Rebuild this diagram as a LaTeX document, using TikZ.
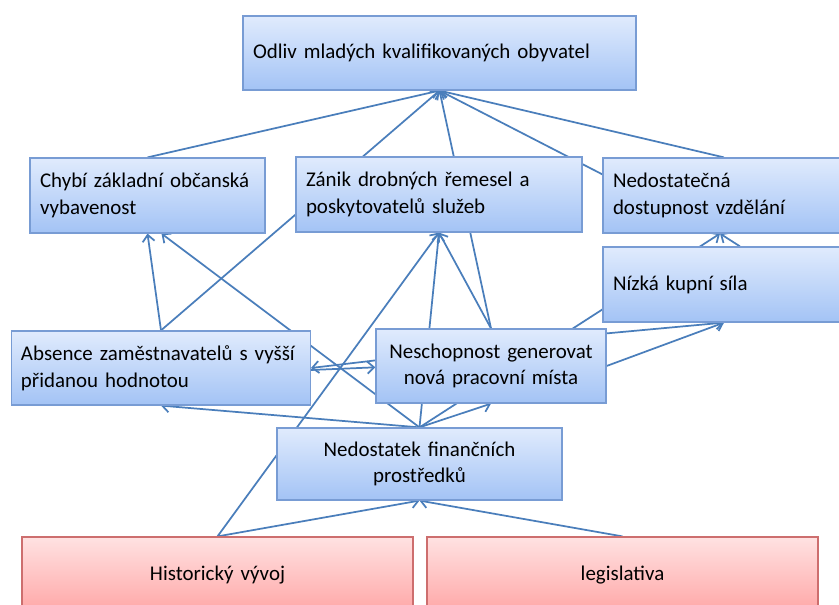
\documentclass[tikz,border=0pt]{standalone}
\usepackage{fontspec}
\setmainfont{Carlito}
\usetikzlibrary{arrows.meta,backgrounds,calc}
\definecolor{btop}{RGB}{224,235,253}
\definecolor{bbot}{RGB}{163,195,245}
\definecolor{bborder}{RGB}{120,156,212}
\definecolor{rtop}{RGB}{255,226,226}
\definecolor{rbot}{RGB}{255,166,166}
\definecolor{rborder}{RGB}{205,110,110}
\definecolor{connc}{RGB}{74,126,187}
\tikzset{
  bluebox/.style={draw=bborder, line width=0.9pt, top color=btop, bottom color=bbot,
    inner xsep=7.5pt, inner ysep=0pt, font=\fontsize{15.7}{20}\selectfont, text=black},
  redbox/.style={draw=rborder, line width=0.9pt, top color=rtop, bottom color=rbot,
    inner xsep=7.5pt, inner ysep=0pt, font=\fontsize{15.7}{20}\selectfont, text=black, align=center},
  conn/.style={draw=connc, line width=1.3pt, -{Straight Barb[length=5pt,width=9pt]}},
}
\begin{document}
\begin{tikzpicture}[x=0.75pt,y=-0.75pt]
\useasboundingbox (0,0) rectangle (839,605);
\clip (0,0) rectangle (839,605);

\node[bluebox, minimum width=294.75pt, minimum height=55.5pt, text width=279.75pt, align=left] (odliv) at (439.5,53) {Odliv mladých kvalifikovaných obyvatel};
\node[bluebox, minimum width=176.25pt, minimum height=56.25pt, text width=161.25pt, align=left] (chybi) at (147.5,195.5) {\raisebox{0pt}[0pt][0pt]{}Chybí základní občanská\\vybavenost};
\node[bluebox, minimum width=214.5pt, minimum height=56.25pt, text width=199.5pt, align=left] (zanik) at (439,194.5) {Zánik drobných řemesel a\\poskytovatelů služeb};
\node[bluebox, minimum width=181.5pt, minimum height=56.25pt, text width=166.5pt, align=left] (nedv) at (724,195.5) {Nedostatečná\\dostupnost vzdělání};
\node[bluebox, minimum width=181.5pt, minimum height=56.25pt, text width=166.5pt, align=left] (nizka) at (724,284.5) {Nízká kupní síla};
\node[bluebox, minimum width=223.5pt, minimum height=55.5pt, text width=210pt, align=left, inner xsep=7pt] (absence) at (161,368) {Absence zaměstnavatelů s vyšší\\přidanou hodnotou};
\node[bluebox, minimum width=172.5pt, minimum height=55.5pt, text width=160pt, inner xsep=6.25pt, align=center] (nesch) at (491,366) {Neschopnost generovat\\nová pracovní místa};
\node[bluebox, minimum width=213.75pt, minimum height=54pt, text width=198.75pt, align=center] (nedfin) at (419.5,464) {Nedostatek finančních\\prostředků};
\node[redbox, minimum width=293.25pt, minimum height=57pt, text width=278.25pt] (hist) at (217.5,575) {Historický vývoj};
\node[redbox, minimum width=293.25pt, minimum height=57pt, text width=278.25pt] (legis) at (622.5,575) {legislativa};

\begin{pgfonlayer}{background}
\fill[white] (0,0) rectangle (839,605);
\draw[conn] (chybi.north) -- (odliv.south);
\draw[conn] (absence.north) -- (odliv.south);
\draw[conn] (nesch.north) -- (odliv.south);
\draw[conn] ([yshift=-12.75pt]nedv.north west) -- (odliv.south);
\draw[conn] (nedv.north) -- (odliv.south);
\draw[conn] (absence.north) -- (chybi.south);
\draw[conn] (nedfin.north) -- ([xshift=10.5pt]chybi.south);
\draw[conn] (nedfin.north) -- (absence.south);
\draw[conn] (nedfin.north) -- (zanik.south);
\draw[conn] (nesch.north) -- (zanik.south);
\draw[conn] (hist.north) -- (zanik.south);
\draw[conn] (nedfin.north) -- ([xshift=-3pt]nedv.south);
\draw[conn] ([xshift=12pt]nizka.north) -- ([xshift=-3pt]nedv.south);
\draw[conn] (nedfin.north) -- (nesch.south);
\draw[conn] ([yshift=-3.75pt]nesch.north east) -- (nizka.south);
\draw[conn] (nesch.east) -- (nizka.south);
\draw[conn] ([yshift=-24pt]nesch.north west) -- (absence.east);
\draw[conn] ([yshift=-1.5pt]absence.east) -- ([yshift=-1pt]nesch.west);
\draw[conn] (hist.north) -- (nedfin.south);
\draw[conn] (legis.north) -- (nedfin.south);
\end{pgfonlayer}
\end{tikzpicture}
\end{document}
